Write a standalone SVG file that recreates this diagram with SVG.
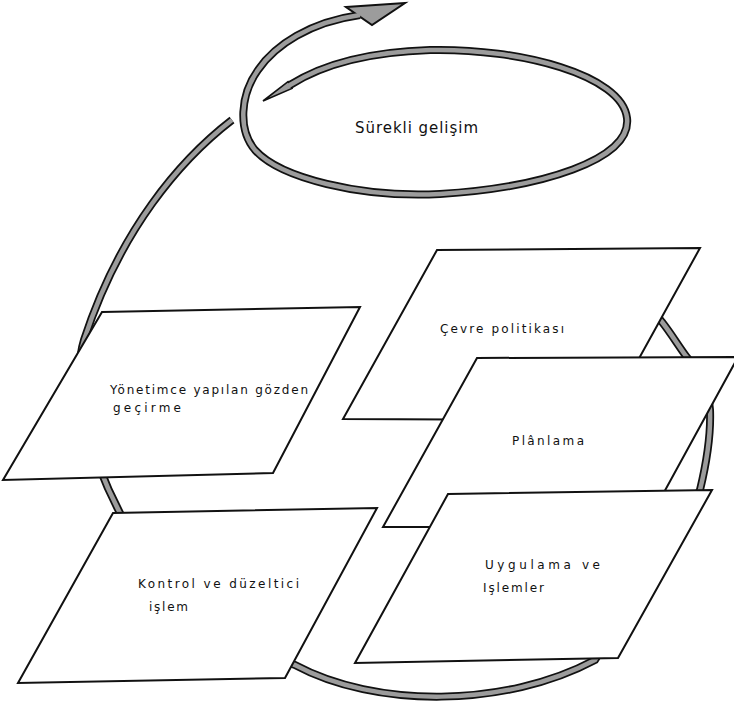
<svg xmlns="http://www.w3.org/2000/svg" width="734" height="708" viewBox="0 0 734 708">
<style>
.bo{fill:none;stroke:#111;stroke-width:8;stroke-linecap:butt}
.bi{fill:none;stroke:#9c9c9c;stroke-width:4.5;stroke-linecap:butt}
.tip{fill:#9c9c9c;stroke:#111;stroke-width:1.6;stroke-linejoin:miter}
.box{fill:#fff;stroke:#111;stroke-width:2;stroke-linejoin:miter}
.lbl{font-family:"DejaVu Sans","Liberation Sans",sans-serif;font-size:12px;fill:#111}
</style>
<rect width="734" height="708" fill="#fff"/>
<g id="connectors">
  <path class="bo" d="M232 120 C180 160,120 230,84 340 C70 385,92 460,120 513 C150 570,220 640,295 665 C375 708,505 708,595 660 C625 610,675 545,700 490 C706 465,711 435,710 410 C709 390,698 370,686 356 C678 345,670 332,662 322 C650 305,635 290,615 278"/>
  <path class="bi" d="M232 120 C180 160,120 230,84 340 C70 385,92 460,120 513 C150 570,220 640,295 665 C375 708,505 708,595 660 C625 610,675 545,700 490 C706 465,711 435,710 410 C709 390,698 370,686 356 C678 345,670 332,662 322 C650 305,635 290,615 278"/>
</g>
<g id="surekli-gelisim">
  <polygon class="tip" points="263,101 288,81.6 292,88.4"/>
  <path class="bo" d="M290 85 C320 66,365 52,430 50 C520 48,622 75,627 118 C632 160,540 188,440 194 C360 198,280 178,255 150 C238 130,240 95,258 70 C275 45,310 22,360 15"/>
  <polygon class="tip" points="346,7 405,3 372,25" style="stroke-width:2"/>
  <path class="bi" d="M287 87 L290 85 C320 66,365 52,430 50 C520 48,622 75,627 118 C632 160,540 188,440 194 C360 198,280 178,255 150 C238 130,240 95,258 70 C275 45,310 22,360 15"/>
  <text class="lbl" x="355" y="133" style="font-size:15px" textLength="123" lengthAdjust="spacing">Sürekli gelişim</text>
</g>
<g id="yonetimce">
  <polygon class="box" points="102,312 360,307 273,473 3,480"/>
  <text class="lbl" x="110" y="394" textLength="198" lengthAdjust="spacing">Yönetimce yapılan gözden</text>
  <text class="lbl" x="113" y="412" textLength="68" lengthAdjust="spacing">geçirme</text>
</g>
<g id="kontrol">
  <polygon class="box" points="113,513 377,508 285,678 18,683"/>
  <text class="lbl" x="138" y="588" textLength="161" lengthAdjust="spacing">Kontrol ve düzeltici</text>
  <text class="lbl" x="149" y="611" textLength="39" lengthAdjust="spacing">işlem</text>
</g>
<g id="cevre">
  <polygon class="box" points="437,250 700,248 605,420 343,419"/>
  <text class="lbl" x="440" y="333" textLength="124" lengthAdjust="spacing">Çevre politikası</text>
</g>
<g id="planlama">
  <polygon class="box" points="477,358 738,357 645,527 383,527"/>
  <text class="lbl" x="512" y="445" textLength="72" lengthAdjust="spacing">Plânlama</text>
</g>
<g id="uygulama">
  <polygon class="box" points="448,494 712,490 618,658 355,663"/>
  <text class="lbl" x="485" y="569" textLength="115" lengthAdjust="spacing">Uygulama ve</text>
  <text class="lbl" x="483" y="592" textLength="61" lengthAdjust="spacing">Işlemler</text>
</g>
</svg>
